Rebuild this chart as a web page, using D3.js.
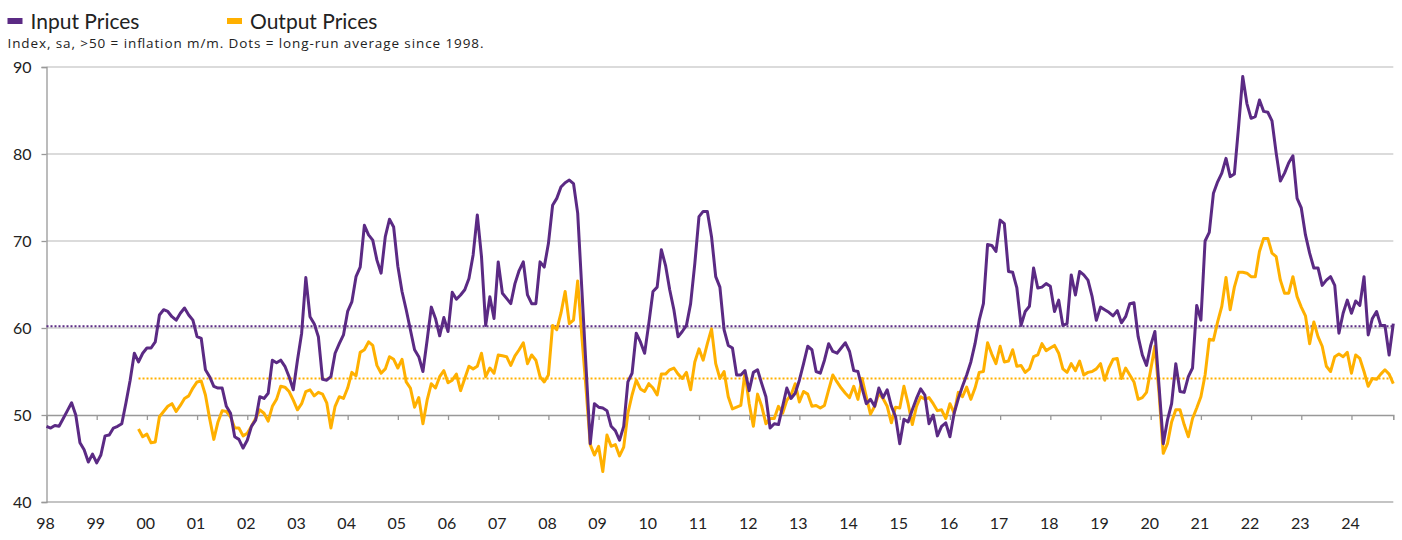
<!DOCTYPE html>
<html><head><meta charset="utf-8">
<script src="https://cdn.jsdelivr.net/npm/d3@7"></script>
<style>body{margin:0;background:#fff}svg{display:block}</style>
</head><body>
<svg id="c" width="1402" height="540"></svg>
<script>
// ---- data (monthly, Jan 1998 .. Nov 2024) ----
const startYear = 1998;
const inputPrices = [
48.7,48.5,48.8,48.7,49.6,50.5,51.4,50.0,46.8,46.0,44.6,45.5,
44.5,45.4,47.6,47.7,48.5,48.7,49.0,51.4,54.0,57.1,56.1,57.1,
57.7,57.7,58.4,61.5,62.1,61.9,61.3,60.9,61.7,62.3,61.5,60.9,
59.0,58.8,55.2,54.4,53.3,53.1,53.1,51.0,50.2,47.5,47.2,46.2,
47.1,48.7,49.4,52.1,51.9,52.5,56.3,56.0,56.3,55.6,54.4,52.9,
56.3,59.4,65.8,61.3,60.5,59.0,54.1,54.0,54.4,57.1,58.2,59.2,
61.9,63.0,65.9,67.0,71.8,70.7,70.1,67.8,66.3,70.5,72.5,71.6,
67.1,64.2,62.1,59.8,57.5,56.7,55.0,58.6,62.4,61.1,59.1,61.2,
59.6,64.1,63.3,63.8,64.4,65.7,68.4,73.0,68.2,60.3,63.6,61.1,
67.6,64.0,63.4,62.8,65.1,66.6,67.6,63.8,62.8,62.8,67.6,67.0,
69.7,74.1,74.9,76.2,76.7,77.0,76.6,73.2,64.4,55.5,46.7,51.3,
50.9,50.8,50.5,48.7,48.2,47.1,48.7,53.8,54.8,59.4,58.4,57.1,
60.5,64.2,64.7,69.0,67.2,64.4,62.1,59.0,59.6,60.3,62.8,67.4,
72.8,73.4,73.4,70.5,65.9,64.7,59.8,58.0,57.7,54.6,54.6,55.1,
52.8,54.9,55.2,53.6,52.1,48.5,49.0,48.9,51.0,53.1,51.9,52.5,
54.0,55.9,57.9,57.5,55.0,54.8,56.3,58.2,57.3,57.1,57.7,58.3,
57.3,55.1,55.0,53.1,51.3,51.8,51.0,53.1,52.0,52.9,51.0,49.8,
46.7,49.5,49.2,50.6,51.9,53.0,52.3,49.0,50.0,47.6,48.7,49.1,
47.5,50.2,51.9,53.3,54.6,56.1,58.2,60.9,62.8,69.6,69.5,68.8,
72.4,72.0,66.5,66.4,64.6,60.3,61.9,62.5,66.9,64.6,64.7,65.1,
64.8,61.9,63.2,60.3,60.5,66.1,63.8,66.5,66.1,65.5,63.6,60.9,
62.4,62.1,61.8,61.4,62.0,60.6,61.3,62.8,62.9,59.0,56.9,55.7,
58.0,59.6,53.3,46.7,49.4,51.3,55.9,52.7,52.6,54.4,55.4,62.6,
60.9,70.0,71.0,75.5,76.8,77.8,79.5,77.4,77.7,83.1,88.9,85.8,
84.1,84.3,86.2,84.9,84.8,83.8,80.1,76.9,77.8,79.0,79.8,74.9,
73.8,70.7,68.6,66.9,66.9,64.9,65.5,65.9,64.9,59.4,61.7,63.2,
61.7,63.1,62.6,65.9,59.2,61.1,61.9,60.3,60.3,56.9,60.5
];
// Output prices begin in Nov 1999 (month index 22)
const outputStart = 22;
const outputPrices = [
48.4,47.5,
47.8,46.8,46.9,49.8,50.4,51.0,51.3,50.4,51.1,51.9,52.2,53.1,
53.8,53.9,52.3,49.6,47.2,49.2,50.5,50.4,49.8,48.5,48.5,47.6,
47.9,48.7,49.6,50.6,50.2,49.3,51.0,51.8,53.3,53.2,52.7,51.7,
50.6,51.3,52.7,52.9,52.2,52.6,52.4,51.4,48.5,51.0,52.1,51.9,
53.1,54.9,54.5,57.2,57.5,58.4,58.0,55.7,54.8,55.3,56.7,56.4,
55.4,56.4,53.8,53.1,50.9,52.0,49.0,51.7,53.6,53.1,54.4,55.1,
53.7,54.0,54.7,52.8,54.2,55.6,55.3,55.6,57.1,54.4,55.4,54.8,
56.9,56.8,56.7,55.7,56.8,57.5,58.3,55.9,56.9,56.3,54.4,53.8,
54.6,60.3,59.8,61.7,64.2,60.5,60.9,65.4,59.0,53.0,46.6,45.4,
46.4,43.5,47.7,46.4,46.6,45.3,46.3,50.2,52.3,54.0,53.0,52.7,
53.6,53.1,52.3,54.7,54.7,55.2,55.4,54.7,54.2,54.9,52.9,56.1,
57.6,56.3,58.2,59.9,55.9,54.2,55.0,52.1,50.7,50.9,51.1,54.9,
51.3,48.7,52.4,51.0,49.0,49.6,49.6,51.0,50.2,51.7,52.3,53.6,
51.5,52.7,52.4,51.0,51.1,50.8,51.1,52.9,54.6,53.8,53.1,52.5,
52.0,53.3,51.8,54.2,52.1,50.1,51.0,52.5,51.9,51.0,49.1,50.9,
50.8,53.3,51.3,48.9,51.0,52.1,51.8,52.0,51.3,50.5,50.6,49.6,
51.3,50.2,52.6,52.1,53.2,51.8,53.1,54.9,55.0,58.3,57.0,55.9,
57.9,56.1,56.2,57.5,55.6,55.7,54.9,55.3,56.7,56.9,58.2,57.4,
57.7,58.0,57.1,55.3,54.9,55.9,55.1,56.2,54.6,54.9,55.0,55.3,
55.9,54.0,55.4,56.4,56.5,54.2,55.4,54.6,53.8,51.8,52.0,52.6,
55.2,57.9,52.5,45.6,46.7,49.2,50.6,50.6,48.9,47.5,49.6,50.8,
52.1,54.6,58.7,58.6,60.7,62.5,65.8,62.1,64.7,66.4,66.4,66.3,
65.9,65.9,68.8,70.3,70.3,68.6,68.2,65.5,64.0,64.0,65.9,63.6,
62.4,61.4,58.2,60.7,59.0,57.9,55.6,55.0,56.7,57.0,56.7,57.2,
54.8,56.9,56.5,55.0,53.3,54.2,54.1,54.7,55.2,54.7,53.6
];
const inputAverage = 60.2;
const outputAverage = 54.2;
const yTicks = [40, 50, 60, 70, 80, 90];
const yearTicks = d3.range(1998, 2025);
const yearLabels = yearTicks.map(y => String(y % 100).padStart(2, "0"));
const seriesNames = ["Input Prices", "Output Prices"];
const subtitle = "Index, sa, >50 = inflation m/m. Dots = long-run average since 1998.";

const PURPLE = "#5b2a84", GOLD = "#ffb000";
const svg = d3.select("#c");
const FONT = "Lato, 'Noto Sans', sans-serif";

const lastT = startYear + (inputPrices.length - 1) / 12;
const x = d3.scaleLinear().domain([startYear, lastT]).range([46.5, 1393.3]);
const y = d3.scaleLinear().domain([40, 90]).range([502, 67]);

// gridlines
svg.append("g").selectAll("line").data(yTicks.filter(v => v !== 50)).join("line")
  .attr("x1", x(startYear)).attr("x2", x(lastT))
  .attr("y1", d => y(d)).attr("y2", d => y(d))
  .attr("stroke", d => d === 40 ? "#b0b0b0" : "#cfcfcf").attr("stroke-width", 1.3);

// y axis
const yAxis = svg.append("g").attr("transform", `translate(${x(startYear)},0)`)
  .call(d3.axisLeft(y).tickValues(yTicks).tickSize(5).tickPadding(10));
yAxis.select(".domain").attr("stroke", "#999").attr("stroke-width", 1.3);
yAxis.selectAll(".tick line").attr("stroke", "#999").attr("stroke-width", 1.3);
yAxis.selectAll("text").attr("font-family", FONT).attr("font-size", 16).attr("fill", "#222");

// x axis at 50
const xAxis = svg.append("g").attr("transform", `translate(0,${y(50)})`)
  .call(d3.axisBottom(x).tickValues(yearTicks).tickSize(5).tickFormat(() => ""));
xAxis.select(".domain").attr("stroke", "#999").attr("stroke-width", 1.6);
xAxis.selectAll(".tick line").attr("stroke", "#999").attr("stroke-width", 1.3);

// year labels at bottom
svg.append("g").selectAll("text").data(yearTicks).join("text")
  .attr("x", d => x(d) - 1).attr("y", 529)
  .attr("text-anchor", "middle").attr("font-family", FONT).attr("font-size", 16).attr("fill", "#222")
  .text((d, i) => yearLabels[i]);

// average dotted lines
svg.append("line").attr("x1", x(startYear)).attr("x2", x(lastT))
  .attr("y1", y(inputAverage)).attr("y2", y(inputAverage))
  .attr("stroke", PURPLE).attr("stroke-width", 2).attr("stroke-dasharray", "2,2");
svg.append("line").attr("x1", x(startYear + outputStart / 12)).attr("x2", x(lastT))
  .attr("y1", y(outputAverage)).attr("y2", y(outputAverage))
  .attr("stroke", GOLD).attr("stroke-width", 2).attr("stroke-dasharray", "2,2");

const line = d3.line().x(d => x(d.t)).y(d => y(d.v));
const inData = inputPrices.map((v, i) => ({t: startYear + i / 12, v}));
const outData = outputPrices.map((v, i) => ({t: startYear + (i + outputStart) / 12, v}));

svg.append("path").datum(outData).attr("d", line).attr("fill", "none")
  .attr("stroke", GOLD).attr("stroke-width", 3).attr("stroke-linejoin", "round");
svg.append("path").datum(inData).attr("d", line).attr("fill", "none")
  .attr("stroke", PURPLE).attr("stroke-width", 3).attr("stroke-linejoin", "round");

// legend
const leg = svg.append("g");
[[PURPLE, 7.5, 30.5], [GOLD, 227, 250]].forEach(([c, rx, tx], i) => {
  leg.append("rect").attr("x", rx).attr("y", 18).attr("width", 15).attr("height", 6).attr("fill", c);
  leg.append("text").attr("x", tx).attr("y", 28.5).attr("font-family", FONT)
    .attr("font-size", 21).attr("fill", "#222").text(seriesNames[i]);
});
svg.append("text").attr("x", 7.5).attr("y", 48).attr("font-family", "'Open Sans', " + FONT)
  .attr("font-size", 13.5).attr("fill", "#222")
  .attr("textLength", 476).attr("lengthAdjust", "spacing").text(subtitle);
</script>
</body></html>
